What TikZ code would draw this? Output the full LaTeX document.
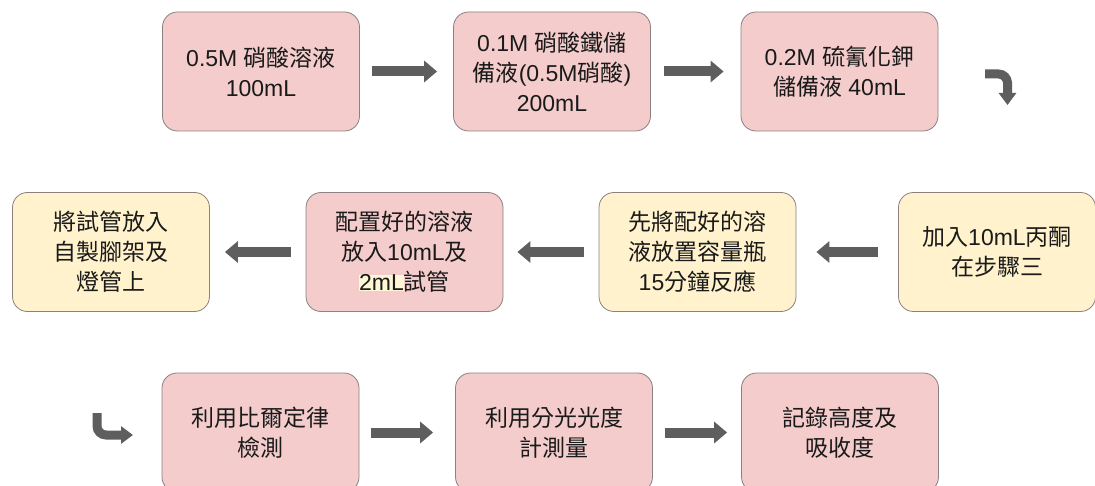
\documentclass[tikz,border=0pt]{standalone}
\usepackage{fontspec}
\setmainfont{Liberation Sans}
\newfontfamily\zhfont{Noto Sans CJK TC}
\newcommand{\zh}[1]{{\zhfont #1}}
\usetikzlibrary{arrows.meta}
\definecolor{pinkfill}{HTML}{F4CCCC}
\definecolor{yellowfill}{HTML}{FFF2CC}
\definecolor{boxborder}{HTML}{8C8080}
\definecolor{arrowgray}{HTML}{5E5E5E}
\definecolor{textcol}{HTML}{1A1A1A}
\definecolor{hl}{HTML}{FFF6D6}
\tikzset{
  box/.style={rounded corners=15pt, draw=boxborder, line width=0.8pt,
    minimum width=197pt, minimum height=119pt, align=center, inner sep=0pt,
    text=textcol, font=\fontsize{23}{30}\selectfont},
  pinkbox/.style={box, fill=pinkfill},
  yellowbox/.style={box, fill=yellowfill},
  blockarrow/.style={draw=arrowgray, line width=10pt,
    -{Triangle[length=13pt,width=21pt]}},
  bentarrow/.style={draw=arrowgray, line width=9pt, rounded corners=9pt,
    -{Triangle[length=12pt,width=17pt]}}
}
\begin{document}
\begin{tikzpicture}[x=1pt,y=-1pt]
\useasboundingbox[fill=white] (0,0) rectangle (1095,486);
% row 1
\node[pinkbox] (A) at (261,71.5) {0.5M \zh{硝酸溶液}\\100mL};
\node[pinkbox] (B) at (552,71.5) {0.1M \zh{硝酸鐵儲}\\\zh{備液}(0.5M\zh{硝酸})\\200mL};
\node[pinkbox] (C) at (839.5,71.5) {0.2M \zh{硫氰化鉀}\\\zh{儲備液} 40mL};
% row 2
\node[yellowbox] (G) at (997,252) {\zh{加入}10mL\zh{丙酮}\\\zh{在步驟三}};
\node[yellowbox] (F) at (697.5,252) {\zh{先將配好的溶}\\\zh{液放置容量瓶}\\15\zh{分鐘反應}};
\node[pinkbox] (E) at (404.5,252) {\zh{配置好的溶液}\\\zh{放入}10mL\zh{及}\\{\setlength{\fboxsep}{0pt}\colorbox{hl}{2mL}}\zh{試管}};
\node[yellowbox] (D) at (111,252) {\zh{將試管放入}\\\zh{自製腳架及}\\\zh{燈管上}};
% row 3
\node[pinkbox] (H) at (260.5,432.5) {\zh{利用比爾定律}\\\zh{檢測}};
\node[pinkbox] (I) at (554,432.5) {\zh{利用分光光度}\\\zh{計測量}};
\node[pinkbox] (J) at (840,432.5) {\zh{記錄高度及}\\\zh{吸收度}};
% straight arrows
\draw[blockarrow] ([xshift=12pt]A.east) -- ([xshift=-16pt]B.west);
\draw[blockarrow] ([xshift=13pt]B.east) -- ([xshift=-17pt]C.west);
\draw[blockarrow] ([xshift=-20pt]G.west) -- ([xshift=20pt]F.east);
\draw[blockarrow] ([xshift=-15pt]F.west) -- ([xshift=14pt]E.east);
\draw[blockarrow] ([xshift=-15pt]E.west) -- ([xshift=15pt]D.east);
\draw[blockarrow] ([xshift=12pt]H.east) -- ([xshift=-22pt]I.west);
\draw[blockarrow] ([xshift=12pt]I.east) -- ([xshift=-14pt]J.west);
% bent arrows
\coordinate (t1) at (985,74);
\coordinate (t2) at (1007.5,74);
\coordinate (t3) at (1007.5,105);
\draw[bentarrow] (t1) -- (t2) -- (t3);
\coordinate (b1) at (97,413);
\coordinate (b2) at (97,435);
\coordinate (b3) at (133,435);
\draw[bentarrow] (b1) -- (b2) -- (b3);
\end{tikzpicture}
\end{document}
